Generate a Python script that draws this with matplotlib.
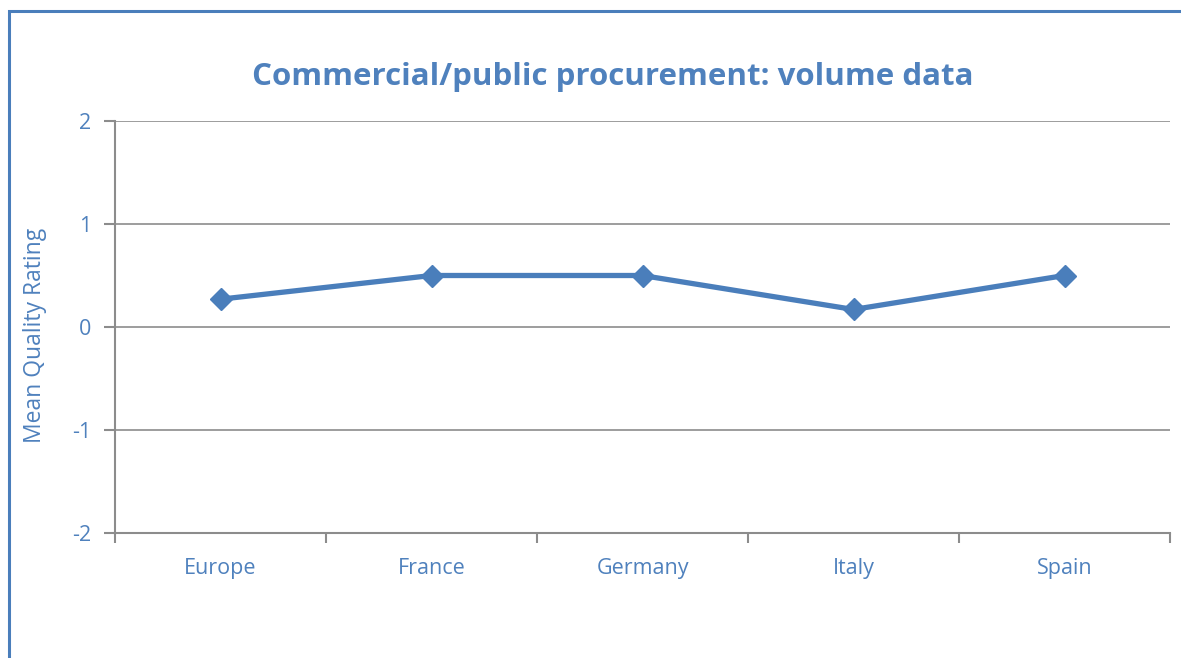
import numpy as np
import matplotlib.pyplot as plt
from matplotlib.patches import Rectangle

# Chart data
countries = ['Europe', 'France', 'Germany', 'Italy', 'Spain']
mean_quality = [0.27, 0.5, 0.5, 0.17, 0.5]
y_ticks = [-2, -1, 0, 1, 2]

blue = '#4a7ebb'
text_blue = '#4f81bd'
grid_gray = '#8c8c8c'

plt.rcParams['font.family'] = ['Open Sans', 'DejaVu Sans']

fig = plt.figure(figsize=(11.81, 6.58), dpi=100)
ax = fig.add_axes([115 / 1181, 1 - 533 / 658, 1055 / 1181, 412 / 658])

x = np.arange(len(countries))
ax.plot(x, mean_quality, color=blue, linewidth=3.8, marker='D', markersize=11,
        markerfacecolor=blue, markeredgecolor=blue, zorder=3)

ax.set_xlim(-0.5, len(countries) - 0.5)
ax.set_ylim(-2, 2)
ax.set_yticks(y_ticks)
ax.set_yticklabels([str(v) for v in y_ticks])
ax.set_xticks(x)
ax.set_xticklabels(countries)
ax.set_xticks(np.arange(-0.5, len(countries)), minor=True)

ax.yaxis.grid(True, color=grid_gray, linewidth=1.2)
ax.set_axisbelow(True)
for side in ['top', 'right']:
    ax.spines[side].set_visible(False)
for side in ['left', 'bottom']:
    ax.spines[side].set_color(grid_gray)
    ax.spines[side].set_linewidth(1.5)

ax.tick_params(axis='x', which='major', length=0, pad=18, labelcolor=text_blue, labelsize=15.5)
ax.tick_params(axis='x', which='minor', length=7, width=1.5, color=grid_gray, direction='out')
ax.tick_params(axis='y', length=8, width=1.5, color=grid_gray, pad=9,
               labelcolor=text_blue, labelsize=15.5)

ax.set_ylabel('Mean Quality Rating', color=text_blue, fontsize=16.5)
ax.yaxis.set_label_coords(-0.064, 0.48)

fig.text(613 / 1181, 1 - 77 / 658, 'Commercial/public procurement: volume data',
         ha='center', va='center', color=text_blue, fontsize=22.5, fontweight='bold')

# chart frame
fig.patches.append(Rectangle((9 / 1181, -0.1), 1.2, 1 - 11 / 658 + 0.1,
                             transform=fig.transFigure, fill=False,
                             edgecolor=blue, linewidth=2.2))

fig.savefig('out.png', dpi=100)
